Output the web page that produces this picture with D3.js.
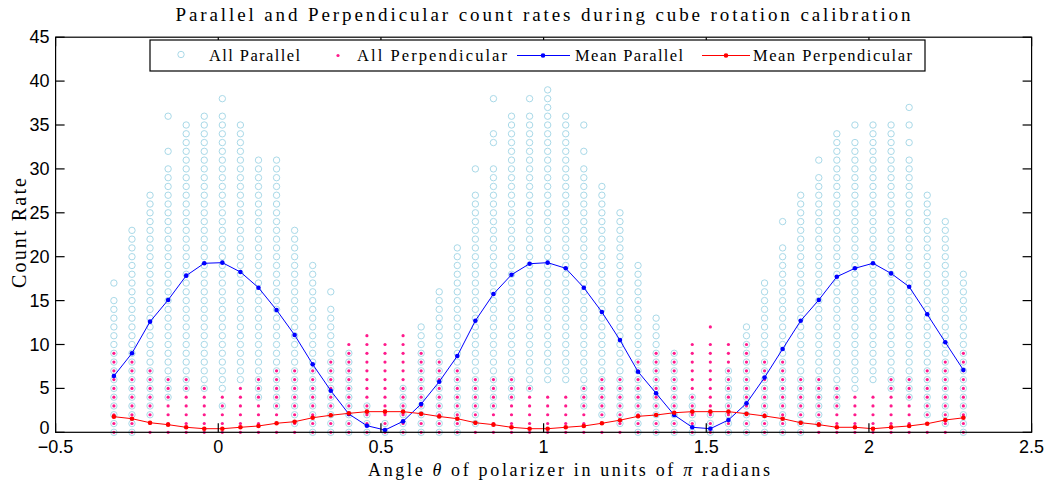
<!DOCTYPE html>
<html><head><meta charset="utf-8">
<script src="https://cdn.jsdelivr.net/npm/d3@7"></script>
<style>body{margin:0;background:#fff;} svg{display:block;}</style>
</head><body><svg id="c" width="1050" height="482"></svg>
<script>
// polarizer angle of each measurement column, in degrees
const anglesDeg = [-57.75,-47.75,-37.75,-27.75,-17.75,-7.75,2.25,12.25,22.25,32.25,42.25,52.25,62.25,72.25,82.25,92.25,102.25,112.25,122.25,132.25,142.25,152.25,162.25,172.25,182.25,192.25,202.25,212.25,222.25,232.25,242.25,252.25,262.25,272.25,282.25,292.25,302.25,312.25,322.25,332.25,342.25,352.25,362.25,372.25,382.25,392.25,402.25,412.25];
const meanPar = [6.41,9.0,12.6,15.07,17.84,19.25,19.32,18.26,16.47,13.93,11.08,7.74,4.74,2.08,0.75,0.26,1.25,3.22,5.76,8.69,12.71,15.75,17.95,19.2,19.32,18.68,16.47,13.7,10.5,6.9,4.44,1.97,0.57,0.41,1.4,3.3,6.24,9.49,12.71,15.07,17.72,18.68,19.25,18.1,16.58,13.44,10.25,7.1];
const meanPerp = [1.78,1.55,1.09,0.87,0.57,0.41,0.41,0.57,0.72,1.03,1.21,1.66,1.94,2.16,2.35,2.35,2.35,2.12,1.8,1.55,1.09,0.87,0.57,0.41,0.41,0.57,0.72,1.03,1.38,1.82,1.97,2.23,2.35,2.35,2.35,2.12,1.86,1.55,1.09,0.87,0.57,0.57,0.41,0.57,0.72,0.98,1.4,1.65];
// observed integer counts in each column, written as runs "a-b,c"
const parRuns = ["0-15,17","0-23","2-27","4-30,32,36","5-35","5-36","3,5-36,38","6-35","4-31","3-31","1-23","0-19","0-14,16","0-9","0-3","0-1","0-5","0-12","0-16","0-21","1-27,30","3-30,33,34,38","4-36","5-36,38","6-39","6-36","3-30,32,35","2-28","1-25","0-19","0-13","0-9","0-4","0-2","0-7","0-12","0-17","0-21,24","0-27","1-29,31","3-34","5-33,35","6-35","5-35","4-31,33,35,37","2-27","1-24","0-18"];
const perpRuns = ["0-9","0-8","0-7","0-6","0-6","0-5","0-4","0-5","0-6","0-7","0-7","0-7","0-8","0-10","0-11","0-10","0-11","0-9","0-8","0-7","0-6","0-6","0-6","0-5","0-4","0-4","0-5","0-6","0-6","0-8","0-9","0-9","0-10","0-10,12","0-10","0-10","0-8","0-8","0-6","0-6","0-5","0-4","0-4","0-6","0-6","0-7","0-8","0-9"];
const xTicks = [-0.5,0,0.5,1,1.5,2,2.5];
const yTicks = [0,5,10,15,20,25,30,35,40,45];
const legendLabels = ["All Parallel","All Perpendicular","Mean Parallel","Mean Perpendicular"];

function expand(s){const out=[];s.split(",").forEach(p=>{const r=p.split("-").map(Number);if(r.length===1)out.push(r[0]);else for(let v=r[0];v<=r[1];v++)out.push(v);});return out;}

const svg=d3.select("#c");
const L=55.6,R=1031.6,T=37.2,B=432.3;
const x=d3.scaleLinear().domain([-0.5,2.5]).range([L,R]);
const y=d3.scaleLinear().domain([0,45]).range([B,T]);
const xs=anglesDeg.map(d=>d/180);

const cBlue="#0000ff",cRed="#ff0000",cLight="#a9d9e8",cPink="#ff1a8c";
const serif="'Liberation Serif','DejaVu Serif',serif";
const sans="'Liberation Sans',Arial,sans-serif";

svg.append("rect").attr("width",1050).attr("height",482).attr("fill","#fff");

const parPts=[];parRuns.forEach((s,i)=>expand(s).forEach(v=>parPts.push([xs[i],v])));
svg.append("g").selectAll("circle").data(parPts).join("circle")
 .attr("cx",d=>x(d[0])).attr("cy",d=>y(d[1])).attr("r",3.2)
 .attr("fill","none").attr("stroke",cLight).attr("stroke-width",1);
const perpPts=[];perpRuns.forEach((s,i)=>expand(s).forEach(v=>perpPts.push([xs[i],v])));
svg.append("g").selectAll("circle").data(perpPts).join("circle")
 .attr("cx",d=>x(d[0])).attr("cy",d=>y(d[1])).attr("r",1.6).attr("fill",cPink);

function meanSeries(vals,col){
  const line=d3.line().x((d,i)=>x(xs[i])).y(d=>y(d));
  svg.append("path").attr("d",line(vals)).attr("fill","none").attr("stroke",col).attr("stroke-width",1);
  svg.append("g").selectAll("circle").data(vals).join("circle")
   .attr("cx",(d,i)=>x(xs[i])).attr("cy",d=>y(d)).attr("r",2.3).attr("fill",col);
}
meanSeries(meanPar,cBlue);
meanSeries(meanPerp,cRed);

const ax=svg.append("g").attr("stroke","#000").attr("stroke-width",1.2).attr("fill","none");
ax.append("rect").attr("x",L).attr("y",T).attr("width",R-L).attr("height",B-T);
const tl=9;
xTicks.forEach(t=>{const px=x(t);
  ax.append("line").attr("x1",px).attr("x2",px).attr("y1",B).attr("y2",B-tl);
  ax.append("line").attr("x1",px).attr("x2",px).attr("y1",T).attr("y2",T+tl);});
yTicks.forEach(t=>{const py=y(t);
  ax.append("line").attr("x1",L).attr("x2",L+tl).attr("y1",py).attr("y2",py);
  ax.append("line").attr("x1",R).attr("x2",R-tl).attr("y1",py).attr("y2",py);});
svg.append("g").selectAll("text").data(xTicks).join("text")
 .attr("x",d=>x(d)).attr("y",B+21).attr("text-anchor","middle")
 .attr("font-family",sans).attr("font-size",18).text(d=>d<0?"\u2212"+String(-d):String(d));
svg.append("g").selectAll("text").data(yTicks).join("text")
 .attr("x",L-6).attr("y",d=>y(d)+(d===0?2:6)).attr("text-anchor","end")
 .attr("font-family",sans).attr("font-size",18).text(d=>String(d));

svg.append("text").attr("x",543).attr("y",21).attr("text-anchor","middle")
 .attr("font-family",serif).attr("font-size",19).attr("textLength",735).attr("lengthAdjust","spacing")
 .text("Parallel and Perpendicular count rates during cube rotation calibration");
const xl=svg.append("text").attr("x",569).attr("y",476).attr("text-anchor","middle")
 .attr("font-family",serif).attr("font-size",18).attr("textLength",402).attr("lengthAdjust","spacing");
xl.append("tspan").text("Angle ");
xl.append("tspan").attr("font-style","italic").text("\u03b8");
xl.append("tspan").text(" of polarizer in units of ");
xl.append("tspan").attr("font-style","italic").text("\u03c0");
xl.append("tspan").text(" radians");
svg.append("text").attr("transform","translate(26,233) rotate(-90)").attr("text-anchor","middle")
 .attr("font-family",serif).attr("font-size",20).attr("textLength",110).attr("lengthAdjust","spacing").text("Count Rate");

const lg=svg.append("g");
lg.append("rect").attr("x",150).attr("y",40).attr("width",775).attr("height",31).attr("fill","#fff").attr("stroke","#000").attr("stroke-width",1.2);
const ly=55.5;
lg.append("circle").attr("cx",181).attr("cy",ly-1).attr("r",3.2).attr("fill","none").attr("stroke",cLight);
lg.append("circle").attr("cx",338).attr("cy",ly).attr("r",1.6).attr("fill",cPink);
lg.append("line").attr("x1",517).attr("x2",570).attr("y1",ly).attr("y2",ly).attr("stroke",cBlue);
lg.append("circle").attr("cx",543).attr("cy",ly).attr("r",2.3).attr("fill",cBlue);
lg.append("line").attr("x1",702).attr("x2",750).attr("y1",ly).attr("y2",ly).attr("stroke",cRed);
lg.append("circle").attr("cx",726).attr("cy",ly).attr("r",2.3).attr("fill",cRed);
const lpos=[[209,91],[357,150],[575,108],[753,159]];
legendLabels.forEach((t,i)=>lg.append("text").attr("x",lpos[i][0]).attr("y",ly+5).attr("font-family",serif)
 .attr("font-size",16.5).attr("textLength",lpos[i][1]).attr("lengthAdjust","spacing").text(t));
</script></body></html>
